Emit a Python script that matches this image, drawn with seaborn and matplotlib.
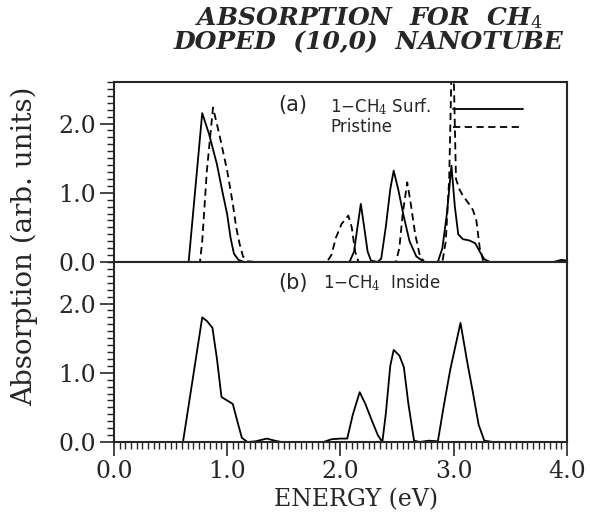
import numpy as np
import pandas as pd
import seaborn as sns
import matplotlib.pyplot as plt
from matplotlib.ticker import MultipleLocator, FormatStrFormatter

# energies (eV) and absorption values
surf_e = [0.0, 0.66, 0.78, 0.84, 0.91, 0.96, 1.00, 1.03, 1.06, 1.10, 1.15, 2.08,
          2.12, 2.15, 2.18, 2.21, 2.24, 2.27, 2.33, 2.36, 2.40, 2.44, 2.47, 2.51,
          2.56, 2.61, 2.67, 2.74, 2.86, 2.90, 2.94, 2.98, 3.01, 3.04, 3.08, 3.14,
          3.19, 3.23, 3.27, 3.32, 3.88, 3.95, 4.0]
surf_a = [0.0, 0.0, 2.15, 1.85, 1.41, 1.0, 0.69, 0.35, 0.12, 0.03, 0.0, 0.0,
          0.15, 0.5, 0.84, 0.5, 0.15, 0.02, 0.0, 0.05, 0.5, 1.05, 1.32, 1.05,
          0.65, 0.3, 0.08, 0.0, 0.0, 0.2, 0.7, 1.39, 0.8, 0.4, 0.33, 0.31,
          0.27, 0.15, 0.04, 0.0, 0.0, 0.03, 0.02]

prist_e = [0.0, 0.76, 0.78, 0.82, 0.875, 0.93, 1.00, 1.05, 1.08, 1.11, 1.14, 1.18,
           1.25, 1.88, 1.92, 1.96, 2.01, 2.07, 2.10, 2.13, 2.16, 2.49, 2.52, 2.55,
           2.59, 2.62, 2.66, 2.70, 2.74, 2.90, 2.93, 2.96, 2.99, 3.02, 3.05, 3.08,
           3.13, 3.17, 3.20, 3.23, 3.26, 3.30, 4.0]
prist_a = [0.0, 0.0, 0.3, 1.3, 2.23, 1.85, 1.32, 0.84, 0.5, 0.26, 0.08, 0.01,
           0.0, 0.0, 0.1, 0.35, 0.55, 0.67, 0.5, 0.15, 0.0, 0.0, 0.2, 0.7,
           1.15, 0.85, 0.4, 0.1, 0.0, 0.0, 0.3, 1.2, 3.5, 1.2, 1.05, 0.96,
           0.85, 0.75, 0.6, 0.2, 0.02, 0.0, 0.0]

inside_e = [0.0, 0.61, 0.70, 0.78, 0.82, 0.87, 0.91, 0.95, 1.00, 1.05, 1.09, 1.13,
            1.18, 1.25, 1.35, 1.42, 1.48, 1.85, 1.92, 2.00, 2.06, 2.11, 2.17, 2.22,
            2.28, 2.33, 2.37, 2.40, 2.44, 2.47, 2.52, 2.56, 2.60, 2.65, 2.70, 2.78,
            2.86, 2.91, 2.97, 3.06, 3.12, 3.17, 3.22, 3.27, 3.35, 4.0]
inside_a = [0.0, 0.0, 0.95, 1.80, 1.75, 1.65, 1.2, 0.65, 0.60, 0.55, 0.3, 0.06,
            0.0, 0.01, 0.05, 0.02, 0.0, 0.0, 0.04, 0.05, 0.05, 0.4, 0.72, 0.55,
            0.3, 0.1, 0.0, 0.4, 1.1, 1.33, 1.25, 1.08, 0.55, 0.02, 0.0, 0.02,
            0.01, 0.5, 1.05, 1.72, 1.15, 0.71, 0.25, 0.02, 0.0, 0.0]

labels_a = ["1$-$CH$_4$ Surf.", "Pristine"]
label_b = "1$-$CH$_4$  Inside"

sns.set_style("ticks")
plt.rcParams["font.family"] = ["DejaVu Serif"]
plt.rcParams["mathtext.fontset"] = "dejavuserif"

fig = plt.figure(figsize=(5.9, 5.14), dpi=100)
ax1 = fig.add_axes([0.193, 0.4903, 0.768, 0.3502])
ax2 = fig.add_axes([0.193, 0.1400, 0.768, 0.3503], sharex=ax1)

lw = 1.3
sns.lineplot(x=surf_e, y=surf_a, ax=ax1, color="black", lw=lw, label=labels_a[0])
sns.lineplot(x=prist_e, y=prist_a, ax=ax1, color="black", lw=lw, label=labels_a[1])
ax1.lines[1].set_dashes((4, 2.5))
sns.lineplot(x=inside_e, y=inside_a, ax=ax2, color="black", lw=lw)

# legend keys only; the labels sit left of them as plain text
sans = ["DejaVu Sans"]
fs_lab = 12
ax1.legend(ax1.lines[:2], [" ", " "], loc="upper left",
           bbox_to_anchor=(0.748, 0.895), frameon=False,
           handlelength=4.2, handletextpad=0.0, labelspacing=0.0,
           borderpad=0, borderaxespad=0,
           prop={"family": "DejaVu Sans", "size": fs_lab})
ax1.text(0.477, 0.862, labels_a[0], transform=ax1.transAxes, family=sans,
         fontsize=fs_lab, va="center")
ax1.text(0.477, 0.75, labels_a[1], transform=ax1.transAxes, family=sans,
         fontsize=fs_lab, va="center")
ax1.text(0.362, 0.872, "(a)", transform=ax1.transAxes, family=sans,
         fontsize=15, va="center")
ax2.text(0.362, 0.885, "(b)", transform=ax2.transAxes, family=sans,
         fontsize=15, va="center")
ax2.text(0.462, 0.885, label_b, transform=ax2.transAxes,
         family=sans, fontsize=fs_lab, va="center")

for ax in (ax1, ax2):
    ax.set_xlim(0, 4.0)
    ax.set_ylim(0, 2.6)
    ax.yaxis.set_major_locator(MultipleLocator(1.0))
    ax.yaxis.set_minor_locator(MultipleLocator(0.1))
    ax.yaxis.set_major_formatter(FormatStrFormatter("%.1f"))
    ax.tick_params(axis="y", which="major", direction="out", length=10,
                   width=1.2, labelsize=17, pad=3)
    ax.tick_params(axis="y", which="minor", direction="out", length=5,
                   width=1.0)
    for s in ax.spines.values():
        s.set_visible(True)
        s.set_linewidth(1.5)
    ax.set_xlabel("")
    ax.set_ylabel("")

ax2.xaxis.set_major_locator(MultipleLocator(1.0))
ax2.xaxis.set_minor_locator(MultipleLocator(0.05))
ax2.xaxis.set_major_formatter(FormatStrFormatter("%.1f"))
ax2.tick_params(axis="x", which="major", direction="out", length=10,
                width=1.2, labelsize=17, pad=3)
ax2.tick_params(axis="x", which="minor", direction="out", length=5, width=1.0)
ax1.tick_params(axis="x", which="both", length=0, labelbottom=False)

ax2.set_xlabel("ENERGY (eV)", fontsize=17)
ax2.xaxis.set_label_coords(0.535, -0.255)
fig.text(0.042, 0.52, "Absorption (arb. units)", rotation=90, fontsize=20,
         ha="center", va="center")

fig.text(0.625, 0.99, "ABSORPTION  FOR  CH$_4$\nDOPED  (10,0)  NANOTUBE",
         ha="center", va="top", fontsize=18, style="italic", weight="bold",
         linespacing=0.95)

fig.savefig("out.png", dpi=100)
